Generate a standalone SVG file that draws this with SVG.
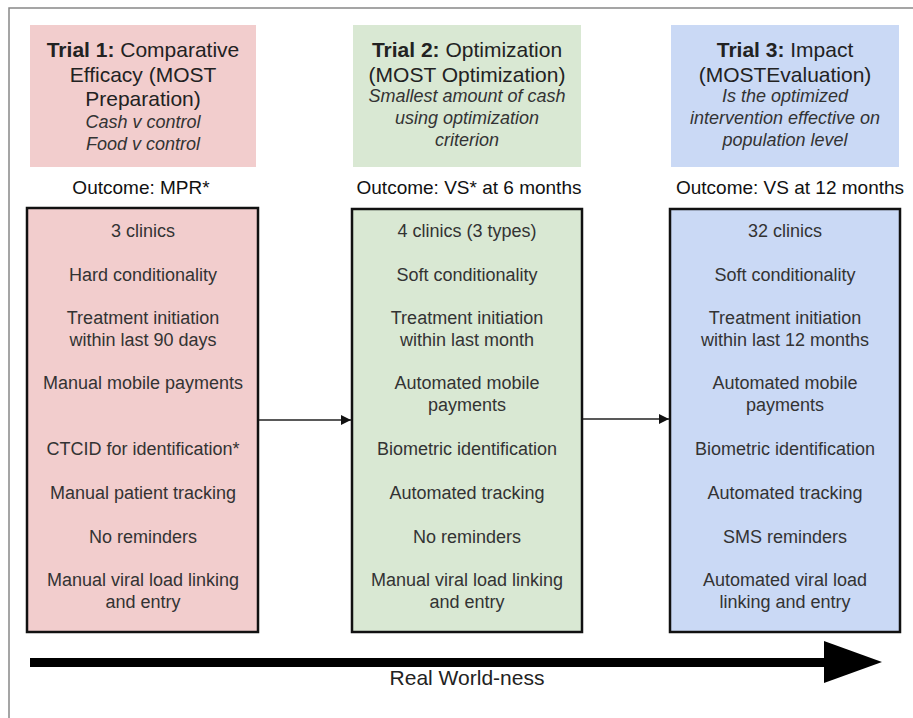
<svg xmlns="http://www.w3.org/2000/svg" width="913" height="718" viewBox="0 0 913 718">
<style>
  .hdr { font-family: "Liberation Sans", Arial, sans-serif; font-size: 21px; fill: #222; text-anchor: middle; }
  .b { font-weight: bold; }
  .it { font-family: "Liberation Sans", Arial, sans-serif; font-size: 18px; font-style: italic; fill: #333; text-anchor: middle; }
  .out { font-family: "Liberation Sans", Arial, sans-serif; font-size: 19px; fill: #111; text-anchor: middle; }
  .txt { font-family: "Liberation Sans", Arial, sans-serif; font-size: 18px; fill: #333; text-anchor: middle; }
  .box { stroke: #111; stroke-width: 2.5; }
  .pink { fill: #f2cdcd; }
  .green { fill: #d9e8d3; }
  .blue { fill: #cad9f5; }
  .conn { stroke: #222; stroke-width: 1.6; fill: none; }
</style>
<defs>
  <marker id="ah" viewBox="0 0 10 10" refX="10" refY="5" markerWidth="10" markerHeight="10" markerUnits="userSpaceOnUse" orient="auto">
    <path d="M0,0 L10,5 L0,10 z" fill="#111"/>
  </marker>
</defs>
<rect x="0" y="0" width="913" height="718" fill="#ffffff"/>
<rect x="9" y="8" width="930" height="730" fill="none" stroke="#888" stroke-width="1.5"/>

<g id="trial1-header">
  <rect x="30" y="25" width="226" height="142" class="pink"/>
  <text class="hdr" x="143" y="57"><tspan class="b">Trial 1:</tspan> Comparative</text>
  <text class="hdr" x="143" y="82">Efficacy (MOST</text>
  <text class="hdr" x="143" y="106">Preparation)</text>
  <text class="it" x="143" y="128">Cash v control</text>
  <text class="it" x="143" y="150">Food v control</text>
  <text class="out" x="141" y="194">Outcome: MPR*</text>
</g>

<g id="trial2-header">
  <rect x="353" y="25" width="228" height="142" class="green"/>
  <text class="hdr" x="467" y="57"><tspan class="b">Trial 2:</tspan> Optimization</text>
  <text class="hdr" x="467" y="82">(MOST Optimization)</text>
  <text class="it" x="467" y="102">Smallest amount of cash</text>
  <text class="it" x="467" y="124">using optimization</text>
  <text class="it" x="467" y="146">criterion</text>
  <text class="out" x="469" y="194">Outcome: VS* at 6 months</text>
</g>

<g id="trial3-header">
  <rect x="671" y="25" width="228" height="142" class="blue"/>
  <text class="hdr" x="785" y="57"><tspan class="b">Trial 3:</tspan> Impact</text>
  <text class="hdr" x="785" y="82">(MOSTEvaluation)</text>
  <text class="it" x="785" y="102">Is the optimized</text>
  <text class="it" x="785" y="124">intervention effective on</text>
  <text class="it" x="785" y="146">population level</text>
  <text class="out" x="790" y="194">Outcome: VS at 12 months</text>
</g>

<g id="trial1-box">
  <rect x="27" y="208" width="231" height="424" class="box pink"/>
  <text class="txt" x="143" y="237">3 clinics</text>
  <text class="txt" x="143" y="281">Hard conditionality</text>
  <text class="txt" x="143" y="324">Treatment initiation</text>
  <text class="txt" x="143" y="346">within last 90 days</text>
  <text class="txt" x="143" y="389">Manual mobile payments</text>
  <text class="txt" x="143" y="455">CTCID for identification*</text>
  <text class="txt" x="143" y="499">Manual patient tracking</text>
  <text class="txt" x="143" y="543">No reminders</text>
  <text class="txt" x="143" y="586">Manual viral load linking</text>
  <text class="txt" x="143" y="608">and entry</text>
</g>

<g id="trial2-box">
  <rect x="352" y="209" width="230" height="423" class="box green"/>
  <text class="txt" x="467" y="237">4 clinics (3 types)</text>
  <text class="txt" x="467" y="281">Soft conditionality</text>
  <text class="txt" x="467" y="324">Treatment initiation</text>
  <text class="txt" x="467" y="346">within last month</text>
  <text class="txt" x="467" y="389">Automated mobile</text>
  <text class="txt" x="467" y="411">payments</text>
  <text class="txt" x="467" y="455">Biometric identification</text>
  <text class="txt" x="467" y="499">Automated tracking</text>
  <text class="txt" x="467" y="543">No reminders</text>
  <text class="txt" x="467" y="586">Manual viral load linking</text>
  <text class="txt" x="467" y="608">and entry</text>
</g>

<g id="trial3-box">
  <rect x="670" y="209" width="230" height="423" class="box blue"/>
  <text class="txt" x="785" y="237">32 clinics</text>
  <text class="txt" x="785" y="281">Soft conditionality</text>
  <text class="txt" x="785" y="324">Treatment initiation</text>
  <text class="txt" x="785" y="346">within last 12 months</text>
  <text class="txt" x="785" y="389">Automated mobile</text>
  <text class="txt" x="785" y="411">payments</text>
  <text class="txt" x="785" y="455">Biometric identification</text>
  <text class="txt" x="785" y="499">Automated tracking</text>
  <text class="txt" x="785" y="543">SMS reminders</text>
  <text class="txt" x="785" y="586">Automated viral load</text>
  <text class="txt" x="785" y="608">linking and entry</text>
</g>

<g id="connectors">
  <line x1="259" y1="420" x2="351" y2="420" class="conn" marker-end="url(#ah)"/>
  <line x1="583" y1="419" x2="669" y2="419" class="conn" marker-end="url(#ah)"/>
</g>

<g id="real-worldness">
  <rect x="30" y="658" width="796" height="9" fill="#000"/>
  <polygon points="824,641 882,662 824,683" fill="#000"/>
  <text class="hdr" x="467" y="685" style="fill:#222">Real World-ness</text>
</g>
</svg>
